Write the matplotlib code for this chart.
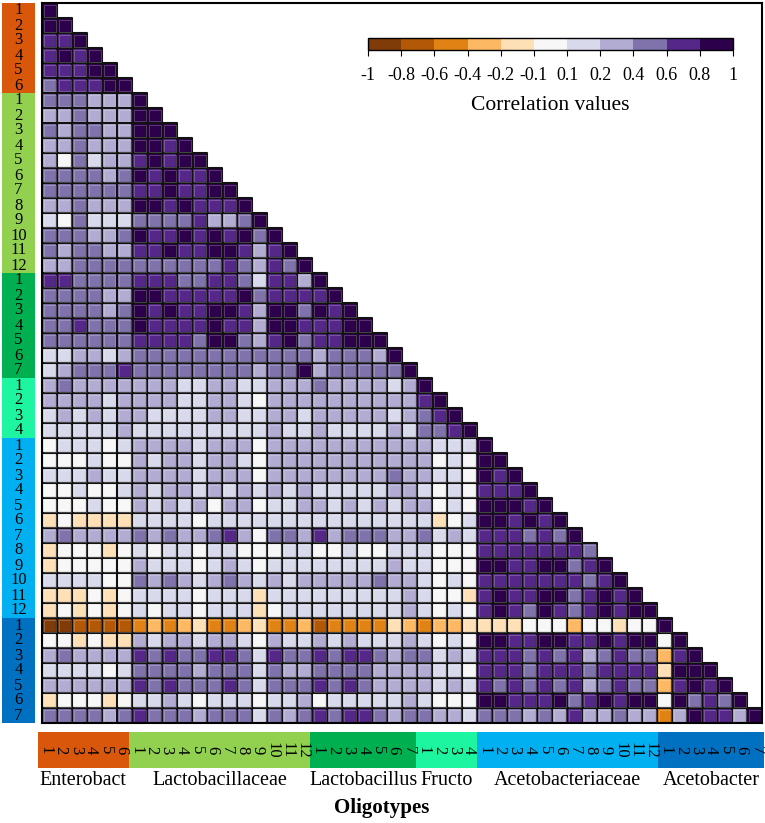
import numpy as np
import matplotlib
matplotlib.use('Agg')
import matplotlib.pyplot as plt
from matplotlib.colors import ListedColormap, BoundaryNorm
from matplotlib.cm import ScalarMappable
from matplotlib.patches import Rectangle
from matplotlib.collections import PatchCollection

plt.rcParams['font.family'] = ['Liberation Serif', 'DejaVu Serif']

# --- Oligotype groups ---

groups = ['Enterobact', 'Lactobacillaceae', 'Lactobacillus', 'Fructo',
          'Acetobacteriaceae', 'Acetobacter']
group_sizes = [6, 12, 7, 4, 12, 7]
group_colors = ['#D9570B', '#92D050', '#00B050', '#1EF5A0', '#00B0F0', '#0070C0']

# --- Colour classes of the legend ---

bounds = [-1, -0.8, -0.6, -0.4, -0.2, -0.1, 0.1, 0.2, 0.4, 0.6, 0.8, 1]
bound_labels = ['-1', '-0.8', '-0.6', '-0.4', '-0.2', '-0.1',
                '0.1', '0.2', '0.4', '0.6', '0.8', '1']
bin_colors = ['#7f3b08', '#b35806', '#e08214', '#fdb863', '#fee0b6', '#f7f7f7',
              '#d8daeb', '#b2abd2', '#8073ac', '#542788', '#2d004b']

# class: A..E negative classes, 0 white, 1..5 positive
code_values = {'A': -0.9, 'B': -0.7, 'C': -0.5, 'D': -0.3, 'E': -0.15,
               '0': 0.0, '1': 0.15, '2': 0.3, '3': 0.5, '4': 0.7, '5': 0.9}

# lower triangle, one string per row (row i has i+1 cells)
enterobact_rows = [
    '5',
    '55',
    '445',
    '4545',
    '44455',
    '344455',
]
lactobacillaceae_rows = [
    '3332225',
    '22322255',
    '323322555',
    '2232225545',
    '20312245455',
    '333323545445',
    '3333334454455',
    '22322255454445',
    '103111333342235',
    '3332235445454535',
    '32332244544554245',
    '223333333333432435',
]
lactobacillus_rows = [
    '4433334443344314425',
    '33332255444445344445',
    '333323545445542553545',
    '3343335444454425544455',
    '33333344443553245344555',
    '112212333333333333233325',
    '1233343333333323352333335',
]
fructo_rows = [
    '23222222211221122232222125',
    '222212222112210222222222245',
    '1212122111122112212222212345',
    '11111211111111121121111213345',
]
acetobacteriaceae_rows = [
    '011101222212220222222222221115',
    '0001002122122102222222222201055',
    '11121122221222022222222322110545',
    '001001212212121212111112210104445',
    '0001002121202201122121212201055545',
    'E0EEEE11110111111111111111E01554545',
    '232222323223420332423332231214443435',
    'E000E010110110001100100111000444444435',
    'E0000021110121011111111211000554455345',
    '111100323212321212222232210104444444345',
    'EEE0E011110111E1111111112100E45445534545',
    'E0E0E010110111E01111111121010454354345455',
]
acetobacter_rows = [
    'AABBBBCDCDECCDECCDBCCCCEDCDDEEEE000D00E005',
    '00E0EE2122122102112121112101055445544545505',
    '23222243433443143343443233121444343423433D45',
    '11110133332333132233332222110444344434444E555',
    '22222243433343133343432222121434343423433D4545',
    'E000E011210111011201111121000554445345455053435',
    '33332343332333132343443233221333232422322C254425',
]

rows = (enterobact_rows + lactobacillaceae_rows + lactobacillus_rows
        + fructo_rows + acetobacteriaceae_rows + acetobacter_rows)

n = sum(group_sizes)
corr = np.full((n, n), np.nan)
for i, row in enumerate(rows):
    cells = row[:i + 1].ljust(i + 1, '5')
    corr[i, :i + 1] = [code_values[c] for c in cells]

# --- Figure ---

W, H = 765, 823
fig = plt.figure(figsize=(W / 100, H / 100), dpi=100)


def px_axes(x0, y0, x1, y1):
    return fig.add_axes([x0 / W, 1 - y1 / H, (x1 - x0) / W, (y1 - y0) / H])


cmap = ListedColormap(bin_colors)
norm = BoundaryNorm(bounds, cmap.N)

ax = px_axes(42, 3, 762, 723)
ii, jj = np.nonzero(~np.isnan(corr))
cells = PatchCollection([Rectangle((j, i), 1, 1) for i, j in zip(ii, jj)],
                        cmap=cmap, norm=norm, edgecolor='#111111', linewidth=1.5)
cells.set_array(corr[ii, jj])
ax.add_collection(cells)
# light inner rim of each cell
rims = PatchCollection([Rectangle((j + 0.1, i + 0.1), 0.8, 0.8) for i, j in zip(ii, jj)],
                       facecolor='none', edgecolor='white', alpha=0.3, linewidth=0.5)
ax.add_collection(rims)
ax.set_xlim(0, n)
ax.set_ylim(n, 0)
ax.set_xticks([])
ax.set_yticks([])
for s in ax.spines.values():
    s.set_linewidth(1.5)
    s.set_color('black')

# left group bar
axl = px_axes(2, 3, 35, 723)
start = 0
for name, size, color in zip(groups, group_sizes, group_colors):
    axl.axhspan(start, start + size, color=color, lw=0)
    for k in range(size):
        axl.text(0.5, start + k + 0.5, str(k + 1), ha='center', va='center',
                 fontsize=12)
    start += size
axl.set_xlim(0, 1)
axl.set_ylim(n, 0)
axl.axis('off')

# bottom group bar
axb = px_axes(38, 732, 764, 768)
start = 0
for name, size, color in zip(groups, group_sizes, group_colors):
    axb.axvspan(start, start + size, color=color, lw=0)
    for k in range(size):
        axb.text(start + k + 0.5, 0.5, str(k + 1), ha='center', va='center',
                 rotation=-90, fontsize=12)
    axb.text(start + size / 2, -0.36, name, ha='center', va='center',
             fontsize=14.5, clip_on=False)
    start += size
axb.set_xlim(0, n)
axb.set_ylim(0, 1)
axb.axis('off')

fig.text(382 / W, 1 - 808 / H, 'Oligotypes', ha='center', va='center',
         fontsize=15, fontweight='bold')

# colour legend
cax = px_axes(368, 38, 733, 50)
cb = fig.colorbar(ScalarMappable(norm=norm, cmap=cmap), cax=cax,
                  orientation='horizontal', ticks=bounds, spacing='uniform')
cb.ax.set_xticklabels(bound_labels, fontsize=13)
cb.ax.tick_params(length=4, width=0.8, pad=8)
cb.outline.set_linewidth(1)
cb.set_label('Correlation values', fontsize=15.5, labelpad=9)

fig.savefig('out.png', dpi=100)
